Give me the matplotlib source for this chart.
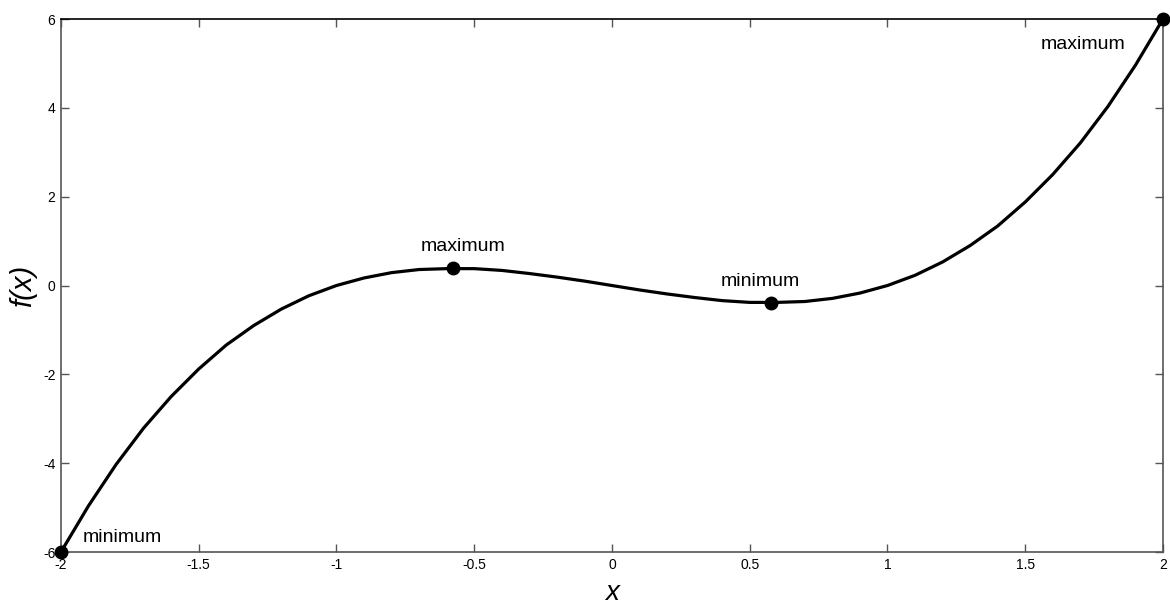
import numpy as np
import matplotlib.pyplot as plt

# curve values, step 0.1
x_vals = [-2.0, -1.9, -1.8, -1.7, -1.6, -1.5, -1.4, -1.3, -1.2, -1.1, -1.0,
          -0.9, -0.8, -0.7, -0.6, -0.5, -0.4, -0.3, -0.2, -0.1, 0.0,
          0.1, 0.2, 0.3, 0.4, 0.5, 0.6, 0.7, 0.8, 0.9, 1.0,
          1.1, 1.2, 1.3, 1.4, 1.5, 1.6, 1.7, 1.8, 1.9, 2.0]
y_vals = [-6.0, -4.96, -4.03, -3.21, -2.50, -1.88, -1.34, -0.90, -0.53, -0.23, 0.0,
          0.17, 0.29, 0.36, 0.38, 0.38, 0.34, 0.27, 0.19, 0.10, 0.0,
          -0.10, -0.19, -0.27, -0.34, -0.38, -0.38, -0.36, -0.29, -0.17, 0.0,
          0.23, 0.53, 0.90, 1.34, 1.88, 2.50, 3.21, 4.03, 4.96, 6.0]

# extrema points and their labels
pt_x = [-2.0, -0.577, 0.577, 2.0]
pt_y = [-6.0, 0.385, -0.385, 6.0]
pt_labels = ['minimum', 'maximum', 'minimum', 'maximum']
lab_x = [-1.92, -0.54, 0.54, 1.71]
lab_y = [-5.68, 0.87, 0.10, 5.42]
lab_ha = ['left', 'center', 'center', 'center']

fig = plt.figure(figsize=(11.7, 6.08), dpi=100)
ax = fig.add_axes([0.0521, 0.0921, 0.9419, 0.8766])

ax.plot(x_vals, y_vals, 'k-', linewidth=2.3)
ax.plot(pt_x, pt_y, 'ko', markersize=9, clip_on=False, zorder=5)
for lx, ly, t, ha in zip(lab_x, lab_y, pt_labels, lab_ha):
    ax.text(lx, ly, t, ha=ha, va='center', fontsize=14, family='Liberation Sans')

ax.set_xlim(-2, 2)
ax.set_ylim(-6, 6)
ax.set_xticks(np.arange(-2, 2.01, 0.5))
ax.set_xticklabels(['-2', '-1.5', '-1', '-0.5', '0', '0.5', '1', '1.5', '2'])
ax.set_yticks(np.arange(-6, 6.01, 2))
ax.set_yticklabels(['-6', '-4', '-2', '0', '2', '4', '6'])
ax.tick_params(direction='in', length=6, width=1, color='#555555',
               labelsize=10, top=True, right=True, pad=4)
for lab in ax.get_xticklabels() + ax.get_yticklabels():
    lab.set_family('Liberation Sans')
for s in ax.spines.values():
    s.set_color('#555555')
    s.set_linewidth(1.2)
ax.spines['top'].set_color('black')

ax.set_xlabel('x', fontsize=20, style='italic', family='Liberation Sans', labelpad=6)
ax.set_ylabel('f(x)', fontsize=21, style='italic', family='Liberation Sans', labelpad=4)

fig.savefig('out.png', dpi=100)
